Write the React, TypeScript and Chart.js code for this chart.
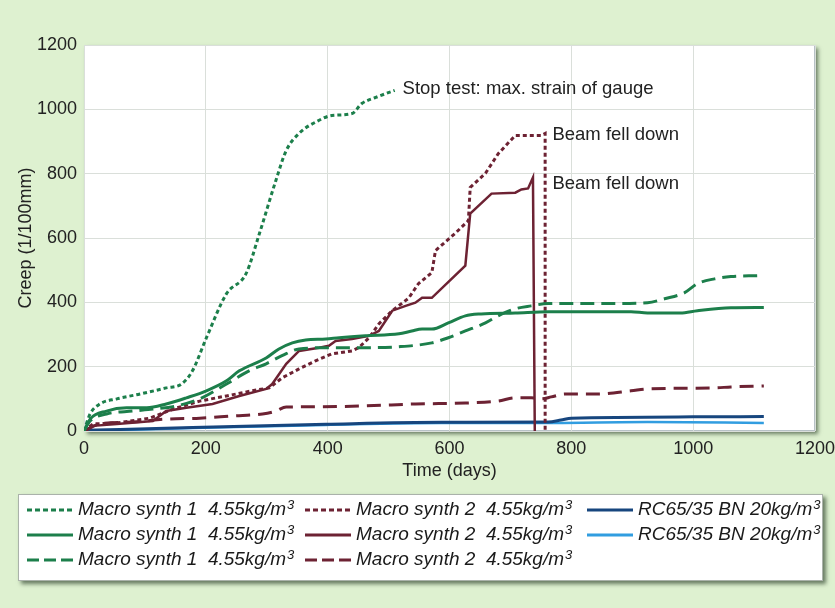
import React, { useEffect, useRef } from 'react';
import { Chart, registerables } from 'chart.js';

Chart.register(...registerables);

// ---- Data ----
const ms1DotDays = [0, 10, 26, 54, 92, 135, 160, 178, 201, 234, 266, 288, 315, 332, 353, 386, 407, 440, 456, 479, 510];
const ms1DotCreep = [0, 53, 84, 100, 115, 134, 146, 187, 290, 427, 489, 614, 779, 872, 925, 966, 981, 987, 1018, 1037, 1059];

const ms1SolidDays = [0, 10, 37, 70, 103, 135, 168, 201, 234, 255, 299, 320, 342, 364, 397, 419, 462, 517, 538, 555, 571, 598, 626, 652, 708, 762, 898, 925, 979, 1007, 1062, 1116];
const ms1SolidCreep = [0, 37, 62, 72, 72, 84, 103, 125, 156, 187, 227, 255, 274, 283, 286, 290, 296, 302, 311, 317, 317, 336, 358, 364, 367, 371, 371, 367, 367, 374, 383, 384];

const ms1DashDays = [0, 10, 37, 80, 113, 152, 190, 234, 271, 299, 325, 353, 407, 462, 517, 571, 598, 626, 659, 680, 708, 734, 762, 844, 925, 953, 986, 1007, 1035, 1062, 1106];
const ms1DashCreep = [0, 31, 53, 62, 68, 78, 100, 146, 187, 209, 234, 255, 259, 259, 262, 274, 290, 311, 336, 358, 380, 389, 396, 396, 399, 411, 430, 458, 473, 480, 483];

const ms2DotDays = [0, 15, 54, 108, 146, 190, 234, 276, 304, 325, 353, 380, 407, 440, 451, 468, 484, 506, 533, 549, 571, 577, 609, 631, 634, 659, 680, 708, 751, 757, 757];
const ms2DotCreep = [0, 22, 25, 40, 68, 93, 109, 125, 134, 165, 193, 218, 240, 249, 259, 290, 333, 374, 413, 458, 492, 561, 614, 654, 757, 801, 862, 919, 919, 925, 0];

const ms2SolidDays = [0, 15, 54, 113, 135, 168, 211, 255, 299, 309, 332, 353, 386, 402, 413, 440, 468, 484, 506, 528, 544, 555, 571, 626, 634, 669, 708, 718, 729, 737, 740];
const ms2SolidCreep = [0, 16, 22, 31, 62, 72, 84, 109, 131, 146, 209, 249, 259, 265, 280, 286, 296, 311, 374, 389, 399, 414, 414, 514, 676, 738, 741, 751, 754, 788, 0];

const ms2DashDays = [0, 26, 80, 135, 190, 244, 293, 315, 332, 353, 462, 544, 626, 680, 708, 734, 751, 767, 790, 844, 898, 925, 1035, 1062, 1116];
const ms2DashCreep = [0, 22, 28, 37, 40, 47, 53, 62, 75, 75, 78, 84, 87, 93, 103, 103, 100, 106, 115, 115, 125, 131, 134, 137, 140];

const rcDarkDays = [0, 178, 397, 587, 762, 783, 800, 1000, 1116];
const rcDarkCreep = [2, 11, 21, 27, 28, 34, 40, 44, 45];

const rcLightDays = [0, 178, 397, 587, 762, 925, 1116];
const rcLightCreep = [0, 9, 19, 25, 25, 28, 25];

const xTicks = [0, 200, 400, 600, 800, 1000, 1200];
const yTicks = [0, 200, 400, 600, 800, 1000, 1200];

const labelMS1 = 'Macro synth 1  4.55kg/m³';
const labelMS2 = 'Macro synth 2  4.55kg/m³';
const labelRC = 'RC65/35 BN 20kg/m³';

const annotations = [
  { text: 'Stop test: max. strain of gauge', day: 523, creep: 1063 },
  { text: 'Beam fell down', day: 769, creep: 920 },
  { text: 'Beam fell down', day: 769, creep: 768 },
];

const GREEN = '#1c7f4b';
const MAROON = '#6d2233';
const DARKBLUE = '#17467e';
const LIGHTBLUE = '#319de0';
const BG = '#def1d0';
const FONT = "'Liberation Sans', Arial, Helvetica, sans-serif";

const pts = (xs: number[], ys: number[]) => xs.map((x, i) => ({ x, y: ys[i] }));

const framePlugin = {
  id: 'frame',
  beforeDraw(chart: any) {
    const { ctx, chartArea: a, width, height } = chart;
    ctx.save();
    ctx.fillStyle = BG;
    ctx.fillRect(0, 0, width, height);
    ctx.shadowColor = 'rgba(25,45,25,0.6)';
    ctx.shadowBlur = 4;
    ctx.shadowOffsetX = 3;
    ctx.shadowOffsetY = 3;
    ctx.fillStyle = '#ffffff';
    ctx.fillRect(a.left, a.top, a.right - a.left, a.bottom - a.top);
    ctx.fillRect(18, 494, 805, 87);
    ctx.restore();
    ctx.save();
    ctx.strokeStyle = '#b7c1c6';
    ctx.lineWidth = 1;
    ctx.strokeRect(a.left + 0.5, a.top + 0.5, a.right - a.left - 1, a.bottom - a.top - 1);
    ctx.strokeStyle = '#aab2aa';
    ctx.strokeRect(18.5, 494.5, 804, 86);
    ctx.restore();
  },
  afterDraw(chart: any) {
    const { ctx } = chart;
    // Annotations
    const xs = chart.scales.x;
    const ys = chart.scales.y;
    ctx.save();
    ctx.fillStyle = '#222';
    ctx.font = `18.5px ${FONT}`;
    ctx.textBaseline = 'middle';
    ctx.textAlign = 'left';
    annotations.forEach((an) => {
      ctx.fillText(an.text, xs.getPixelForValue(an.day), ys.getPixelForValue(an.creep));
    });
    ctx.restore();

    // Legend (3 rows, column-major)
    const colX = [27, 305, 587];
    const rowY = [510, 535, 560];
    const sampleW = 46;
    chart.data.datasets.forEach((ds: any, i: number) => {
      const col = Math.floor(i / 3);
      const row = i % 3;
      const x = colX[col];
      const y = rowY[row];
      ctx.save();
      ctx.strokeStyle = ds.borderColor;
      ctx.lineWidth = 3;
      ctx.setLineDash(ds.legendDash || []);
      ctx.beginPath();
      ctx.moveTo(x, y);
      ctx.lineTo(x + sampleW, y);
      ctx.stroke();
      ctx.setLineDash([]);
      ctx.fillStyle = '#1a1a1a';
      ctx.textBaseline = 'middle';
      ctx.textAlign = 'left';
      const label: string = ds.label;
      const sup = label.endsWith('³');
      const base = sup ? label.slice(0, -1) : label;
      ctx.font = `italic 19px ${FONT}`;
      const tx = x + 51;
      ctx.fillText(base, tx, y);
      if (sup) {
        const w = ctx.measureText(base).width;
        ctx.font = `italic 13px ${FONT}`;
        ctx.fillText('3', tx + w + 1, y - 5);
      }
      ctx.restore();
    });
  },
};

export default function App() {
  const ref = useRef<HTMLCanvasElement>(null);
  useEffect(() => {
    const mk = (label: string, xs: number[], ys: number[], color: string, dash: number[], width: number, smooth: boolean, legendDash: number[]) => ({
      label,
      data: pts(xs, ys),
      borderColor: color,
      backgroundColor: color,
      borderWidth: width,
      borderDash: dash,
      legendDash,
      pointRadius: 0,
      fill: false,
      tension: 0,
      cubicInterpolationMode: smooth ? 'monotone' : 'default',
    });
    const chart = new Chart(ref.current as HTMLCanvasElement, {
      type: 'line',
      data: {
        datasets: [
          mk(labelMS1, ms1DotDays, ms1DotCreep, GREEN, [4, 3], 3, true, [5, 3]),
          mk(labelMS1, ms1SolidDays, ms1SolidCreep, GREEN, [], 3, true, []),
          mk(labelMS1, ms1DashDays, ms1DashCreep, GREEN, [14, 7], 3, true, [12, 5]),
          mk(labelMS2, ms2DotDays, ms2DotCreep, MAROON, [4, 3], 3, false, [5, 3]),
          mk(labelMS2, ms2SolidDays, ms2SolidCreep, MAROON, [], 2.5, false, []),
          mk(labelMS2, ms2DashDays, ms2DashCreep, MAROON, [14, 8], 3, true, [12, 5]),
          mk(labelRC, rcDarkDays, rcDarkCreep, DARKBLUE, [], 3, true, []),
          mk(labelRC, rcLightDays, rcLightCreep, LIGHTBLUE, [], 2.5, true, []),
        ] as any,
      },
      options: {
        animation: false,
        responsive: false,
        maintainAspectRatio: false,
        layout: { padding: { left: 11, top: 45, right: 20, bottom: 122 } },
        plugins: { legend: { display: false }, tooltip: { enabled: false } },
        scales: {
          x: {
            type: 'linear',
            min: 0,
            max: 1200,
            afterFit: (s: any) => { s.height = 55; s.paddingRight = 0; s.paddingLeft = 0; },
            afterBuildTicks: (s: any) => { s.ticks = xTicks.map((v) => ({ value: v })); },
            ticks: { font: { size: 18, family: FONT }, color: '#222', padding: 7, maxRotation: 0, callback: (v: any) => String(v) },
            grid: { color: '#dadfda', drawTicks: false, lineWidth: 1 },
            border: { display: false },
            title: { display: true, text: 'Time (days)', font: { size: 18, family: FONT }, color: '#222', padding: { top: 4, bottom: 4 } },
          },
          y: {
            type: 'linear',
            min: 0,
            max: 1200,
            afterFit: (s: any) => { s.width = 73; s.paddingTop = 0; s.paddingBottom = 0; },
            afterBuildTicks: (s: any) => { s.ticks = yTicks.map((v) => ({ value: v })); },
            ticks: { font: { size: 18, family: FONT }, color: '#222', padding: 7, callback: (v: any) => String(v) },
            grid: { color: '#dadfda', drawTicks: false, lineWidth: 1 },
            border: { display: false },
            title: { display: true, text: 'Creep (1/100mm)', font: { size: 18, family: FONT }, color: '#222', padding: { top: 4, bottom: 4 } },
          },
        },
      } as any,
      plugins: [framePlugin],
    });
    return () => chart.destroy();
  }, []);
  return (
    <div style={{ position: 'absolute', left: 0, top: 0, width: 835, height: 608 }}>
      <canvas ref={ref} width={835} height={608} style={{ width: 835, height: 608, display: 'block' }} />
    </div>
  );
}
